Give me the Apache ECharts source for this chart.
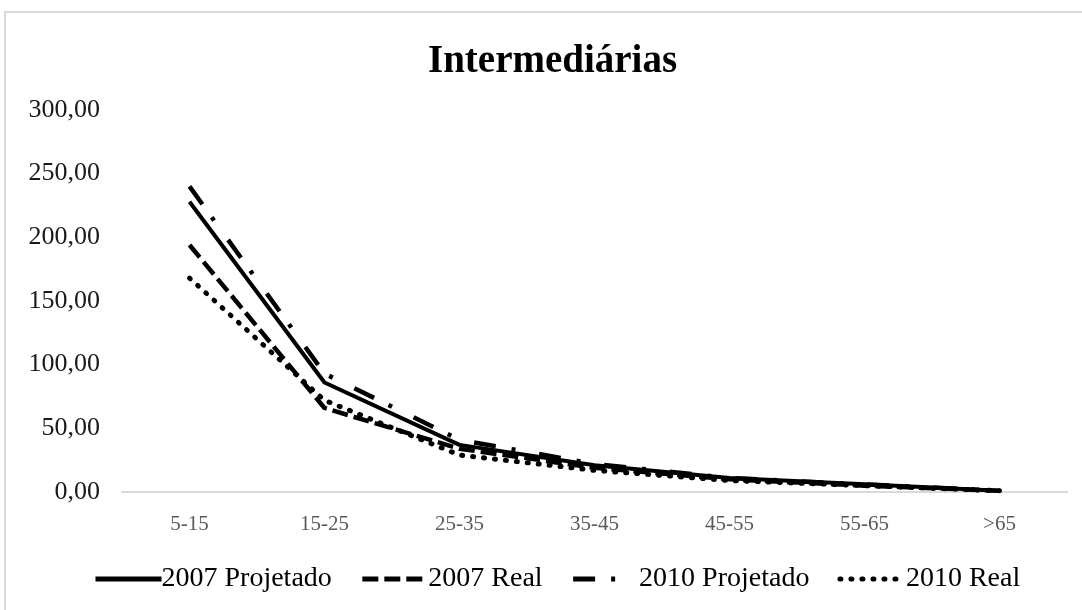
<!DOCTYPE html>
<html>
<head>
<meta charset="utf-8">
<script src="https://cdn.jsdelivr.net/npm/echarts@6/dist/echarts.min.js"></script>
<style>
  html, body { margin: 0; padding: 0; background: #fff; }
  #chart { width: 1082px; height: 610px; }
</style>
</head>
<body>
<div id="chart"></div>
<script>
// Age classes (cm) on the x axis
const categories = ['5-15', '15-25', '25-35', '35-45', '45-55', '55-65', '>65'];

// Series values
const projetado2007 = [228, 86, 37, 21, 11, 6, 1];
const real2007      = [194, 66, 34, 19, 10, 5, 1];
const projetado2010 = [240, 93, 41, 22, 11, 6, 1];
const real2010      = [168, 72, 29, 17, 9, 5, 1];

// Value axis ticks
const yMin = 0, yMax = 300, yStep = 50;

const serif = '"Liberation Serif", "DejaVu Serif", serif';

function mkSeries(name, data, lineStyle) {
  return {
    name: name,
    type: 'line',
    data: data,
    symbol: 'none',
    showSymbol: false,
    smooth: false,
    lineStyle: Object.assign({ color: '#000', width: 4.5 }, lineStyle),
    itemStyle: { color: '#000' }
  };
}

const chart = echarts.init(document.getElementById('chart'), null, { renderer: 'canvas' });
chart.setOption({
  backgroundColor: '#fff',
  animation: false,
  graphic: [
    {
      type: 'polyline',
      shape: { points: [[5, 610], [5, 12], [1082, 12]] },
      style: { stroke: '#d9d9d9', lineWidth: 2, fill: null },
      silent: true
    }
  ],
  title: {
    text: 'Intermediárias',
    left: 423,
    top: 37,
    textStyle: { fontFamily: serif, fontSize: 39, fontWeight: 'bold', color: '#000' }
  },
  legend: {
    bottom: 12,
    left: 88,
    itemWidth: 66,
    itemHeight: 10,
    itemGap: 28,
    itemStyle: { color: 'transparent', borderWidth: 0, opacity: 0 },
    lineStyle: { width: 5 },
    textStyle: { fontFamily: serif, fontSize: 28, color: '#000', padding: [0, 0, 0, -5] },
    data: ['2007 Projetado', '2007 Real', '2010 Projetado', '2010 Real']
  },
  grid: { left: 122, right: 15, top: 110, bottom: 118, containLabel: false },
  xAxis: {
    type: 'category',
    data: categories,
    boundaryGap: true,
    axisLine: { lineStyle: { color: '#d9d9d9', width: 2 } },
    axisTick: { show: false },
    axisLabel: { fontFamily: serif, fontSize: 21, color: '#595959', margin: 22 }
  },
  yAxis: {
    type: 'value',
    min: yMin,
    max: yMax,
    interval: yStep,
    axisLine: { show: false },
    axisTick: { show: false },
    splitLine: { show: false },
    axisLabel: {
      fontFamily: serif, fontSize: 26, color: '#1a1a1a', margin: 22,
      formatter: v => v.toFixed(2).replace('.', ',')
    }
  },
  series: [
    mkSeries('2007 Projetado', projetado2007, { type: 'solid', width: 4 }),
    mkSeries('2007 Real', real2007, { type: [16, 6], cap: 'butt' }),
    mkSeries('2010 Projetado', projetado2010, { type: [22, 16, 4, 24], cap: 'butt' }),
    mkSeries('2010 Real', real2010, { type: [1, 10], cap: 'round', width: 5 })
  ]
});
</script>
</body>
</html>
